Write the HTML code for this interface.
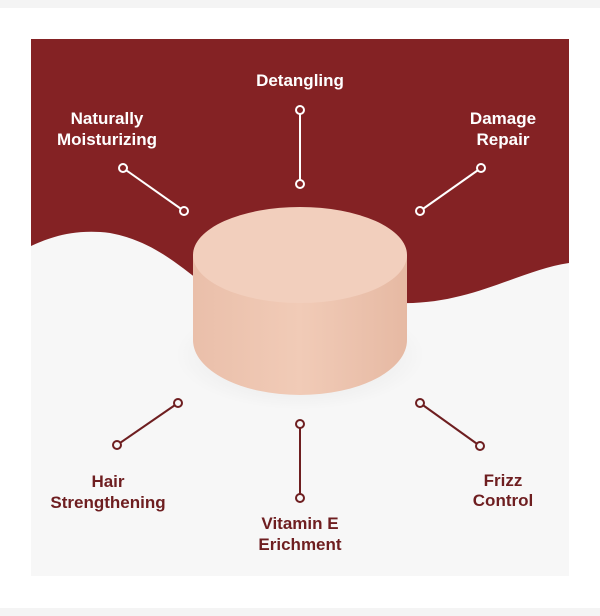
<!DOCTYPE html>
<html><head><style>
html,body{margin:0;padding:0;background:#fff;}
body{width:600px;height:616px;position:relative;overflow:hidden;font-family:"Liberation Sans",sans-serif;}
</style></head><body>
<svg width="600" height="616" viewBox="0 0 600 616" style="position:absolute;left:0;top:0">
<defs>
<linearGradient id="side" x1="0" x2="1" y1="0" y2="0">
<stop offset="0" stop-color="#eabfaa"/><stop offset="0.5" stop-color="#f1cbb7"/><stop offset="1" stop-color="#e6b9a3"/>
</linearGradient>
<radialGradient id="sh" cx="0.5" cy="0.5" r="0.5"><stop offset="0" stop-color="#000" stop-opacity="0.1"/><stop offset="1" stop-color="#000" stop-opacity="0"/></radialGradient>
</defs>
<rect x="0" y="0" width="600" height="8" fill="#f4f4f4"/>
<rect x="0" y="608" width="600" height="8" fill="#f4f4f4"/>
<rect x="31" y="39" width="538" height="537" fill="#f7f7f7"/>
<path d="M31 39 H569 V263 C520 270 470 305 400 303 C340 300 290 300 240 300 C200 295 175 245 110 233 C70 228 45 240 31 246 Z" fill="#842224"/>
<ellipse cx="300" cy="355" rx="125" ry="55" fill="url(#sh)"/>
<path d="M193 255 V340 A107 55 0 0 0 407 340 V255 Z" fill="url(#side)"/>
<ellipse cx="300" cy="255" rx="107" ry="48" fill="#f2cfbd"/>
<g stroke="#fff" stroke-width="2" fill="#842224">
<line x1="123" y1="168" x2="184" y2="211"/><circle cx="123" cy="168" r="4"/><circle cx="184" cy="211" r="4"/>
<line x1="300" y1="110" x2="300" y2="184"/><circle cx="300" cy="110" r="4"/><circle cx="300" cy="184" r="4"/>
<line x1="481" y1="168" x2="420" y2="211"/><circle cx="481" cy="168" r="4"/><circle cx="420" cy="211" r="4"/>
</g>
<g stroke="#6e1e20" stroke-width="2" fill="#f7f7f7">
<line x1="178" y1="403" x2="117" y2="445"/><circle cx="178" cy="403" r="4"/><circle cx="117" cy="445" r="4"/>
<line x1="300" y1="424" x2="300" y2="498"/><circle cx="300" cy="424" r="4"/><circle cx="300" cy="498" r="4"/>
<line x1="420" y1="403" x2="480" y2="446"/><circle cx="420" cy="403" r="4"/><circle cx="480" cy="446" r="4"/>
</g>
<g font-family="Liberation Sans, sans-serif" font-weight="bold" font-size="17" text-anchor="middle">
<g fill="#fff">
<text x="300" y="86">Detangling</text>
<text x="107" y="124">Naturally</text><text x="107" y="145">Moisturizing</text>
<text x="503" y="124">Damage</text><text x="503" y="145">Repair</text>
</g>
<g fill="#6e1e20">
<text x="108" y="487">Hair</text><text x="108" y="508">Strengthening</text>
<text x="300" y="529">Vitamin E</text><text x="300" y="550">Erichment</text>
<text x="503" y="486">Frizz</text><text x="503" y="506">Control</text>
</g>
</g>
</svg>
</body></html>
